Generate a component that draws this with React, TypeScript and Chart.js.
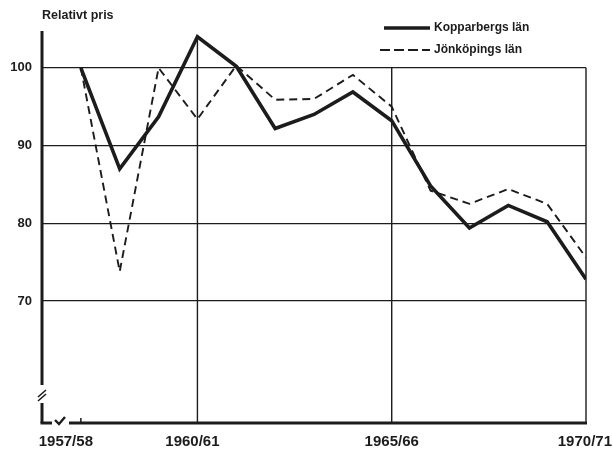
import React, { useEffect, useRef } from "react";
import { Chart, registerables } from "chart.js";

Chart.register(...registerables);

const years = [
  "1957/58", "1958/59", "1959/60", "1960/61", "1961/62", "1962/63", "1963/64",
  "1964/65", "1965/66", "1966/67", "1967/68", "1968/69", "1969/70", "1970/71",
];
const shownYears = ["1957/58", "1960/61", "1965/66", "1970/71"];
const kopparberg = [100, 87, 93.7, 104, 100.2, 92.2, 94, 96.9, 93.2, 84.8, 79.4, 82.3, 80.2, 72.8];
const jonkoping = [100, 73.8, 100, 93.4, 100.3, 95.9, 96, 99.1, 95, 84.2, 82.5, 84.4, 82.5, 75.6];
const yTicks = [70, 80, 90, 100];
const seriesNames = ["Kopparbergs län", "Jönköpings län"];
const yTitle = "Relativt pris";
const frameYears = ["1960/61", "1965/66", "1970/71"];

const INK = "#1c1c1c";
const FONT = '"Liberation Sans", Arial, sans-serif';

const decor = {
  id: "decor",
  beforeDatasetsDraw(chart: any) {
    const { ctx, chartArea } = chart;
    const xs = chart.scales.x;
    const ys = chart.scales.y;
    ctx.save();
    ctx.strokeStyle = INK;
    ctx.lineWidth = 1.4;
    frameYears.forEach((lab) => {
      const i = years.indexOf(lab);
      const x = xs.getPixelForValue(i);
      const top = ys.getPixelForValue(Math.max(100, kopparberg[i]));
      ctx.beginPath();
      ctx.moveTo(x, top);
      ctx.lineTo(x, chartArea.bottom);
      ctx.stroke();
    });
    ctx.restore();
  },
  afterDraw(chart: any) {
    const { ctx, chartArea } = chart;
    const xs = chart.scales.x;
    const L = chartArea.left;
    const B = chartArea.bottom;
    const T = chartArea.top;
    ctx.save();
    ctx.strokeStyle = INK;
    ctx.fillStyle = INK;
    ctx.lineCap = "butt";
    // y axis with break
    ctx.lineWidth = 3;
    ctx.beginPath();
    ctx.moveTo(L, T + 2);
    ctx.lineTo(L, B - 38);
    ctx.moveTo(L, B - 20);
    ctx.lineTo(L, B);
    ctx.stroke();
    ctx.lineWidth = 1.6;
    ctx.beginPath();
    ctx.moveTo(L - 4, B - 26);
    ctx.lineTo(L + 4, B - 33);
    ctx.moveTo(L - 4, B - 22);
    ctx.lineTo(L + 4, B - 29);
    ctx.stroke();
    // x axis with break
    ctx.lineWidth = 3;
    ctx.beginPath();
    ctx.moveTo(L - 1.5, B);
    ctx.lineTo(L + 10, B);
    ctx.stroke();
    ctx.lineWidth = 2.4;
    ctx.beginPath();
    ctx.moveTo(L + 13, B - 3);
    ctx.lineTo(L + 17, B + 1);
    ctx.lineTo(L + 23, B - 6);
    ctx.stroke();
    ctx.lineWidth = 3;
    ctx.beginPath();
    ctx.moveTo(L + 27, B);
    ctx.lineTo(chartArea.right + 1, B);
    ctx.stroke();
    ctx.lineWidth = 1.5;
    const x0 = xs.getPixelForValue(0);
    ctx.beginPath();
    ctx.moveTo(x0, B);
    ctx.lineTo(x0, B - 5);
    ctx.stroke();

    // x labels
    ctx.font = "bold 15px " + FONT;
    ctx.textBaseline = "middle";
    ctx.textAlign = "center";
    const W = chart.width;
    shownYears.forEach((lab, k) => {
      const i = years.indexOf(lab);
      let x = xs.getPixelForValue(i);
      const w = ctx.measureText(lab).width;
      if (k === 0) x -= 15;
      if (k === 1) x -= 5;
      x = Math.min(x, W - 1 - w / 2);
      ctx.fillText(lab, x, B + 19);
    });

    // title
    ctx.textAlign = "left";
    ctx.font = "bold 12.5px " + FONT;
    ctx.fillText(yTitle, L, 16);

    // legend
    const ds = chart.data.datasets;
    const rows = [28, 50];
    ctx.font = "bold 12px " + FONT;
    ds.forEach((d: any, k: number) => {
      const y = rows[k];
      ctx.save();
      ctx.strokeStyle = d.borderColor;
      ctx.lineWidth = d.borderWidth;
      ctx.setLineDash(d.borderDash ? [10, 4] : []);
      ctx.beginPath();
      ctx.moveTo(k === 0 ? 384 : 380, y);
      ctx.lineTo(430, y);
      ctx.stroke();
      ctx.restore();
      ctx.fillText(d.label, 434, y);
    });
    ctx.restore();
  },
};

export default function App() {
  const ref = useRef<HTMLCanvasElement | null>(null);
  useEffect(() => {
    document.body.style.margin = "0";
    const canvas = ref.current!;
    const chart = new Chart(canvas, {
      type: "line",
      data: {
        datasets: [
          {
            label: seriesNames[0],
            data: kopparberg.map((v, i) => ({ x: i, y: v })),
            borderColor: INK,
            borderWidth: 3.6,
            pointRadius: 0,
            tension: 0,
            borderJoinStyle: "miter",
          },
          {
            label: seriesNames[1],
            data: jonkoping.map((v, i) => ({ x: i, y: v })),
            borderColor: INK,
            borderWidth: 1.9,
            borderDash: [8, 5],
            pointRadius: 0,
            tension: 0,
          },
        ],
      },
      options: {
        animation: false,
        responsive: false,
        layout: { padding: { top: 29, right: 27, bottom: 28, left: 0 } },
        plugins: { legend: { display: false }, tooltip: { enabled: false } },
        scales: {
          x: {
            type: "linear",
            min: -1,
            max: 13,
            display: false,
          },
          y: {
            type: "linear",
            min: 54.3,
            max: 105,
            afterBuildTicks: (s: any) => {
              s.ticks = yTicks.map((v) => ({ value: v }));
            },
            afterFit: (s: any) => {
              s.width = 42;
            },
            border: { display: false },
            grid: { color: INK, lineWidth: 1.3, drawTicks: false },
            ticks: {
              padding: 10,
              color: INK,
              font: { family: FONT, size: 13, weight: "bold" },
              callback: (v: any) => String(v),
            },
          },
        },
      },
      plugins: [decor],
    });
    return () => chart.destroy();
  }, []);
  return <canvas ref={ref} width={613} height={451} style={{ display: "block" }} />;
}
